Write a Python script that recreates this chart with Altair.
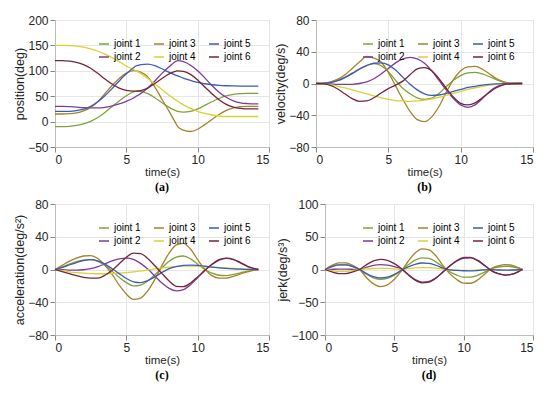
import altair as alt
import pandas as pd

JOINTS = ["joint 1", "joint 2", "joint 3", "joint 4", "joint 5", "joint 6"]
COLORS = {
    "joint 1": "#7FA33A",
    "joint 2": "#7D3C98",
    "joint 3": "#A6822A",
    "joint 4": "#D8D234",
    "joint 5": "#3F5BB5",
    "joint 6": "#74263A",
}

# time grids
T = [0, 0.5, 1, 1.5, 2, 2.5, 3, 3.5, 4, 4.5, 5, 5.5, 6, 6.5, 7, 7.5, 8, 8.5, 9,
     9.5, 10, 10.5, 11, 11.5, 12, 12.5, 13, 13.5, 14, 14.25]
T_POS = [0, 0.5, 1, 1.5, 2, 2.5, 3, 3.5, 4, 4.5, 5, 5.5, 5.7, 6, 6.5, 7, 7.5, 8,
         8.5, 8.6, 9, 9.5, 10, 10.5, 11, 11.5, 12, 12.5, 13, 13.5, 14, 14.25]

# (a) position (deg)
POS = {
    "joint 1": [-10, -10, -9.3, -7.5, -4.5, 0.5, 8, 18, 29.5, 40.5, 51, 58.5, 60, 59.5, 55, 47, 37, 28,
                21, 20, 18.5, 20, 25, 32, 39, 45.5, 50.5, 53.5, 55, 55.5, 55.5, 55.5],
    "joint 2": [30, 30, 29.5, 28.5, 27.5, 27, 27, 28, 31, 35, 40, 46.5, 50, 55, 66, 80, 95, 108,
                119, 120, 118, 111, 100, 86, 71, 58, 48, 41, 37, 35.5, 35, 35],
    "joint 3": [15, 15, 15.5, 17, 21, 28, 39, 55, 71, 85, 95.5, 100.5, 100, 97.5, 88, 68, 44, 20,
                -5, -10, -17, -19.5, -15, -6, 4, 14, 22, 27, 29.5, 30, 30, 30],
    "joint 4": [150, 150, 149.5, 148.5, 146.5, 143, 138.5, 133, 126, 118, 109.5, 102.5, 100, 95, 85, 74,
                63, 52, 42, 40, 33, 26, 20, 16, 13, 11, 10, 10, 10, 10, 10, 10],
    "joint 5": [20, 20, 20.2, 21.5, 24.5, 30, 39, 51, 65, 80, 94, 106, 110, 112, 113, 110, 104, 97,
                91, 90, 85.5, 81, 77, 74.5, 72.5, 71.3, 70.6, 70.2, 70, 70, 70, 70],
    "joint 6": [120, 120, 119, 116.5, 112, 105, 95, 84, 74, 66, 61.5, 60, 60, 61, 66, 75, 85, 94,
                99.5, 100, 99, 93, 82, 68, 55, 43, 34, 28.5, 26, 25, 25, 25],
}

# (b) velocity (deg/s)
VEL = {
    "joint 1": [0, 0.3, 1.5, 4, 8, 13, 18.5, 23, 25, 22.5, 15, 4, -6, -13, -18, -20, -18.5, -12.5,
                -4, 4, 10, 13.5, 14, 12, 8.5, 4.5, 1.5, 0.3, 0, 0],
    "joint 2": [0, -0.1, -0.5, -1, -1.2, -1, 0, 2, 6, 12, 19, 26, 31, 33, 31, 25.5, 16, 4,
                -8, -19, -27, -30, -27, -19, -10, -4, -1, -0.2, 0, 0],
    "joint 3": [0, 0.3, 2, 5.5, 11, 19, 27, 34, 32, 27, 14, -3, -20, -35, -45.5, -48, -42, -29,
                -11, 5, 16, 21, 21.5, 18, 12, 6, 2, 0.3, 0, 0],
    "joint 4": [0, -0.5, -1.5, -3.5, -5.5, -8, -10.5, -13, -15.5, -18, -20, -21.5, -22, -22.5, -22, -21,
                -19.5, -17.5, -15, -12.5, -10, -7.5, -5.5, -3.5, -2, -1, -0.3, 0, 0, 0],
    "joint 5": [0, 0.2, 1, 3.5, 7.5, 12.5, 18, 22.5, 25.5, 26, 23.5, 17, 8, -1, -8, -13, -15, -14.5,
                -12.5, -10, -7.5, -5, -3.5, -2, -1, -0.5, -0.2, 0, 0, 0],
    "joint 6": [0, -0.5, -2.5, -7, -13, -19, -22.5, -22, -18, -12, -6.5, -2, 3, 11, 18.5, 20, 16, 6,
                -6, -17, -25, -27, -24.5, -18, -11, -5, -1.5, -0.3, 0, 0],
}

# (c) acceleration (deg/s^2)
ACC = {
    "joint 1": [0, 3, 6.5, 9.5, 11.5, 12, 10, 5, -2, -9.5, -16, -20, -19, -14, -6.5, 2, 10, 15,
                16.5, 13, 6.5, 0, -4.5, -7, -7.5, -6, -4, -2, -0.5, 0],
    "joint 2": [0, -0.3, -0.7, -0.8, -0.3, 1, 3.5, 7, 10.5, 13, 14, 12.5, 7.5, 0.5, -8, -16.5, -23, -26,
                -24.5, -18.5, -10, -1.5, 6, 11.5, 13.5, 12, 8, 3.5, 0.5, 0],
    "joint 3": [0, 5, 10, 14, 16.5, 17, 13.5, 5, -6, -19, -30, -36.5, -35, -26, -12, 5, 20, 30,
                32, 25, 12, 0.5, -7.5, -10.5, -10.5, -8.5, -5.5, -3, -0.8, 0],
    "joint 4": [0, -1.5, -2.8, -3.8, -4.5, -5, -5.2, -5.2, -5, -4.5, -3.8, -2.8, -1.8, -0.5, 0.8, 2, 3, 3.8,
                4.2, 4.2, 4, 3.5, 3, 2.4, 1.8, 1.2, 0.7, 0.3, 0.1, 0],
    "joint 5": [0, 2.5, 5.5, 8.5, 11, 12, 10.5, 6.5, 1, -5, -11, -15, -16, -13.5, -9, -3.5, 1, 3.5,
                5, 5.3, 5, 4, 3, 2, 1.3, 0.8, 0.4, 0.2, 0, 0],
    "joint 6": [0, -2.5, -5, -7.5, -9.5, -10.5, -10.5, -7, -1, 7, 15, 20, 19.5, 13.5, 4.5, -5, -14, -20.5,
                -21, -16.5, -9, -1, 6.5, 12, 14, 12.5, 8.5, 4, 1, 0],
}

# (d) jerk (deg/s^3)
JERK = {
    "joint 1": [0, 4.4, 7.1, 7.1, 4.4, 0, -7.3, -12.7, -15.0, -13.5, -8.6, -1.5, 7.1, 14.2, 17.8, 16.9, 11.7, 3.6,
                -3.5, -8.6, -11.6, -11.7, -9.0, -4.1, 1.0, 3.8, 5.0, 4.2, 1.6, 0],
    "joint 2": [0, 0.3, 0.5, 0.5, 0.3, 0, 3.6, 6.4, 7.5, 6.7, 4.3, 0.8, -7.7, -15.4, -19.3, -18.3, -12.7, -3.9,
                5.6, 13.6, 18.3, 18.5, 14.3, 6.5, -1.7, -6.4, -8.5, -7.1, -2.7, 0],
    "joint 3": [0, 6.2, 10.0, 10.0, 6.2, 0, -12.6, -22.0, -26.0, -23.4, -14.9, -2.6, 12.6, 25.3, 31.6, 30.0, 20.8, 6.4,
                -6.3, -15.4, -20.7, -21.0, -16.1, -7.4, 1.5, 5.6, 7.5, 6.2, 2.4, 0],
    "joint 4": [0, -1.8, -2.9, -2.9, -1.8, 0, 0.9, 1.5, 1.8, 1.6, 1.0, 0.2, 1.2, 2.4, 3.0, 2.8, 2.0, 0.6,
                -0.4, -0.9, -1.2, -1.2, -0.9, -0.4, -0.2, -0.9, -1.2, -1.0, -0.4, 0],
    "joint 5": [0, 4.4, 7.1, 7.1, 4.4, 0, -6.3, -11.0, -13.0, -11.7, -7.5, -1.3, 3.9, 7.9, 9.9, 9.4, 6.5, 2.0,
                -0.6, -1.4, -1.9, -2.0, -1.5, -0.7, -0.2, -0.8, -1.0, -0.8, -0.3, 0],
    "joint 6": [0, -3.8, -6.2, -6.2, -3.8, 0, 7.5, 13.1, 15.5, 13.9, 8.9, 1.6, -8.1, -16.2, -20.3, -19.2, -13.3, -4.1,
                5.3, 12.9, 17.3, 17.6, 13.5, 6.2, -1.7, -6.4, -8.5, -7.1, -2.7, 0],
}

X_TICKS = [0, 5, 10, 15]
FONT = "Liberation Sans"


def long_df(times, series):
    rows = []
    for j in JOINTS:
        for t, v in zip(times, series[j]):
            rows.append({"t": t, "v": v, "joint": j})
    return pd.DataFrame(rows)


def panel(df, ytitle, ydom, yticks, sub, w, h):
    color = alt.Color(
        "joint:N",
        scale=alt.Scale(domain=JOINTS, range=[COLORS[j] for j in JOINTS]),
        legend=alt.Legend(orient="top-right", columns=3, title=None, symbolType="stroke"),
    )
    x = alt.X("t:Q", scale=alt.Scale(domain=[0, 15], nice=False),
              axis=alt.Axis(values=X_TICKS, title="time(s)"))
    y = alt.Y("v:Q", scale=alt.Scale(domain=ydom, nice=False),
              axis=alt.Axis(values=yticks, title=ytitle))
    return alt.Chart(df).mark_line(strokeWidth=1.3, interpolate="monotone").encode(
        x=x, y=y, color=color
    ).properties(
        width=w, height=h,
        title=alt.TitleParams(sub, orient="bottom", font="Liberation Serif", fontSize=12),
    )


pa = panel(long_df(T_POS, POS), "position(deg)", [-50, 200], [-50, 0, 50, 100, 150, 200], "(a)", 214, 127)
pb = panel(long_df(T, VEL), "velocity(deg/s)", [-80, 80], [-80, -40, 0, 40, 80], "(b)", 217, 127)
pc = panel(long_df(T, ACC), "acceleration(deg/s²)", [-80, 80], [-80, -40, 0, 40, 80], "(c)", 214, 131)
pd_ = panel(long_df(T, JERK), "jerk(deg/s³)", [-100, 100], [-100, -50, 0, 50, 100], "(d)", 208, 131)

res = dict(color="independent", x="independent", y="independent")
top = alt.hconcat(pa, pb, spacing=4).resolve_scale(**res)
bot = alt.hconcat(pc, pd_, spacing=6).resolve_scale(**res)
chart = alt.vconcat(top, bot, spacing=4).resolve_scale(**res).configure_view(
    stroke="#bdbdbd", strokeWidth=1
).configure_axis(
    gridColor="#e6e6e6", domainColor="#bdbdbd",
    labelFont=FONT, labelFontSize=12, labelColor="#262626", labelPadding=2,
    titleFont=FONT, titleFontWeight="normal", titleColor="#262626", titleFontSize=11.5,
).configure_axisY(
    titleFontSize=12.5, titlePadding=1
).configure_axisX(
    titlePadding=1
)

chart.save("out.html", embed_options={"renderer": "svg", "actions": False})
